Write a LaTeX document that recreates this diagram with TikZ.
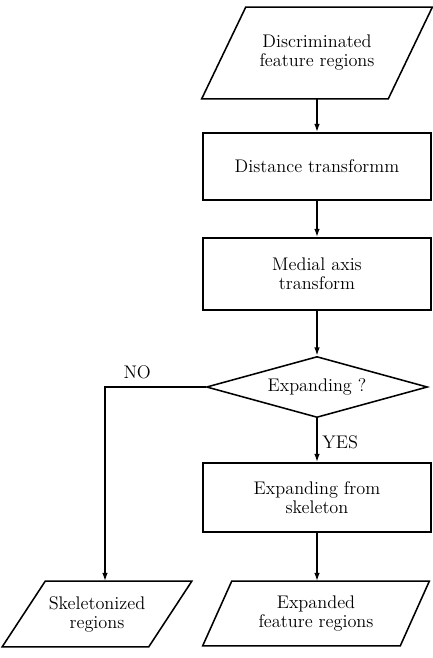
\documentclass[tikz,border=0pt]{standalone}
\usepackage{tikz}
\usetikzlibrary{shapes.geometric, arrows.meta}
\usepackage{amsmath}
% slanted input/output box drawn round a plain node: #1 node, #2 slant (px)
\newcommand*{\drawio}[2]{\draw ([xshift=#2*0.0125cm]#1.north west) -- ([xshift=#2*0.0125cm]#1.north east) -- ([xshift=-#2*0.0125cm]#1.south east) -- ([xshift=-#2*0.0125cm]#1.south west) -- cycle;}

\begin{document}
\begin{tikzpicture}[x=0.025cm, y=-0.025cm, line width=1.1pt, >={Latex[length=6pt, width=4pt]},
    every node/.style={font=\fontsize{13}{13.5}\selectfont, align=center},
    io/.style={rectangle, inner sep=0pt},
    proc/.style={draw, rectangle, minimum width=5.7cm, inner sep=0pt},
    dec/.style={draw, diamond, aspect=3.6, minimum width=5.525cm, minimum height=1.525cm, inner sep=0pt}]
    \useasboundingbox (0,0) rectangle (433,658);
              % blocks
            \node[io, minimum width=4.625cm, minimum height=2.25cm] (in) at (317,53) {Discriminated\\feature regions};
            \node[proc, minimum height=1.675cm] (dist) at (317,166.5) {Distance transformm};
            \node[proc, minimum height=1.8cm] (mat) at (317,274) {Medial axis\\transform};
            \node[dec] (exp) at (317,387) {Expanding ?};
            \node[proc, minimum height=1.725cm] (grow) at (317,497.5) {Expanding from\\skeleton};
            \node[io, minimum width=3.625cm, minimum height=1.6cm] (skel) at (97,614) {Skeletonized\\regions};
            \node[io, minimum width=4.9cm, minimum height=1.575cm] (out) at (316,613.5) {Expanded\\feature regions};
            \drawio{in}{44}
            \drawio{skel}{43}
            \drawio{out}{29}
            \coordinate (bend) at (105,387);
              % arrows
            \draw[->] (in) -- (dist);
            \draw[->] (dist) -- (mat);
            \draw[->] (mat) -- (exp);
            \draw[->] (exp) -- node[right, pos=0.55] {YES} (grow);
            \draw[->] (exp.west) -- node[above, pos=0.68, yshift=2pt] {NO} (bend) -- (bend |- skel.north);
            \draw[->] (grow) -- (grow |- out.north);
          \end{tikzpicture}
\end{document}
